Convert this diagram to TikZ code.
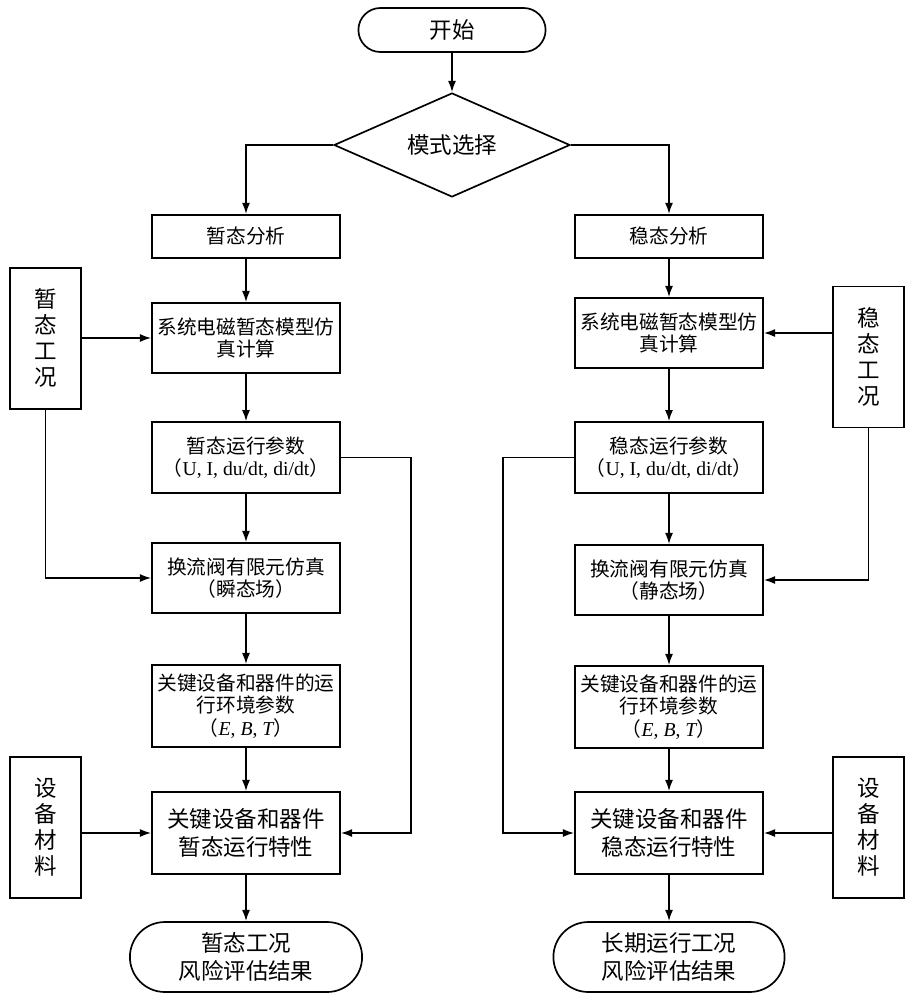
\documentclass[tikz,border=0pt]{standalone}
\usepackage{fontspec}
\setmainfont{Noto Sans CJK SC}
\newfontfamily\serifen{Liberation Serif}
\usetikzlibrary{arrows.meta,shapes.geometric,shapes.misc}
\begin{document}
\begin{tikzpicture}[line width=1.2pt,
  box/.style={draw, rectangle, minimum width=4.7cm, align=center, inner sep=1pt, font=\fontsize{14}{16}\selectfont},
  bigbox/.style={box, font=\fontsize{16}{20}\selectfont},
  term/.style={draw, rounded rectangle, align=center, inner sep=1pt, font=\fontsize{16}{20}\selectfont},
  side/.style={draw, rectangle, minimum width=1.775cm, minimum height=3.525cm, align=center, font=\fontsize{16}{18.5}\selectfont},
  arr/.style={-{Latex[length=2.8mm,width=2mm]}}]
\useasboundingbox (0,0) rectangle (22.8,-25);
% top
\node[term, minimum width=4.75cm, minimum height=1.1cm] (start) at (11.3,-0.75) {开始};
\node[draw, diamond, aspect=2.27, inner sep=0pt, minimum width=5.9cm, minimum height=2.6cm, font=\fontsize{16}{20}\selectfont] (mode) at (11.3,-3.625) {模式选择};
\draw[arr] (start) -- (mode);
% transient branch
\node[box, minimum height=1.075cm] (anaL) at (6.15,-5.91) {暂态分析};
\node[box, minimum height=1.75cm] (simL) at (6.15,-8.45) {系统电磁暂态模型仿\\真计算};
\node[box, minimum height=1.775cm] (parL) at (6.15,-11.44) {暂态运行参数\\（{\serifen U, I, du/dt, di/dt}）};
\node[box, minimum height=1.75cm] (feL) at (6.15,-14.45) {换流阀有限元仿真\\（瞬态场）};
\node[box, minimum height=2.05cm] (envL) at (6.15,-17.65) {关键设备和器件的运\\行环境参数\\（{\serifen\itshape E}{\serifen , }{\serifen\itshape B}{\serifen , }{\serifen\itshape T}）};
\node[bigbox, minimum height=2.05cm] (chL) at (6.15,-20.825) {关键设备和器件\\暂态运行特性};
\node[term, minimum width=5.875cm, minimum height=1.75cm] (resL) at (6.15,-23.925) {暂态工况\\风险评估结果};
\node[side] (condL) at (1.14,-8.46) {暂\\态\\工\\况};
\node[side] (matL) at (1.14,-20.69) {设\\备\\材\\料};
% steady branch
\node[box, minimum height=1.075cm] (anaR) at (16.725,-5.91) {稳态分析};
\node[box, minimum height=1.75cm] (simR) at (16.725,-8.325) {系统电磁暂态模型仿\\真计算};
\node[box, minimum height=1.775cm] (parR) at (16.725,-11.44) {稳态运行参数\\（{\serifen U, I, du/dt, di/dt}）};
\node[box, minimum height=1.75cm] (feR) at (16.725,-14.5) {换流阀有限元仿真\\（静态场）};
\node[box, minimum height=2.05cm] (envR) at (16.725,-17.675) {关键设备和器件的运\\行环境参数\\（{\serifen\itshape E}{\serifen , }{\serifen\itshape B}{\serifen , }{\serifen\itshape T}）};
\node[bigbox, minimum height=2.05cm] (chR) at (16.725,-20.825) {关键设备和器件\\稳态运行特性};
\node[term, minimum width=5.85cm, minimum height=1.75cm] (resR) at (16.725,-23.925) {长期运行工况\\风险评估结果};
\node[side] (condR) at (21.71,-8.925) {稳\\态\\工\\况};
\node[side] (matR) at (21.71,-20.69) {设\\备\\材\\料};
% connectors
\draw[arr] (mode.west) -| (anaL.north);
\draw[arr] (mode.east) -| (anaR.north);
\draw[arr] (anaL) -- (simL);
\draw[arr] (simL) -- (parL);
\draw[arr] (parL) -- (feL);
\draw[arr] (feL) -- (envL);
\draw[arr] (envL) -- (chL);
\draw[arr] (chL) -- (resL);
\draw[arr] (anaR) -- (simR);
\draw[arr] (simR) -- (parR);
\draw[arr] (parR) -- (feR);
\draw[arr] (feR) -- (envR);
\draw[arr] (envR) -- (chR);
\draw[arr] (chR) -- (resR);
\draw[arr] (simL -| condL.east) -- (simL.west);
\draw[arr] (condL.south) |- (feL.west);
\draw[arr] (parL.east) -- ++(1.75,0) |- (chL.east);
\draw[arr] (chL -| matL.east) -- (chL.west);
\draw[arr] (simR -| condR.west) -- (simR.east);
\draw[arr] (condR.south) |- (feR.east);
\draw[arr] (parR.west) -- ++(-1.775,0) |- (chR.west);
\draw[arr] (chR -| matR.west) -- (chR.east);
\end{tikzpicture}
\end{document}
